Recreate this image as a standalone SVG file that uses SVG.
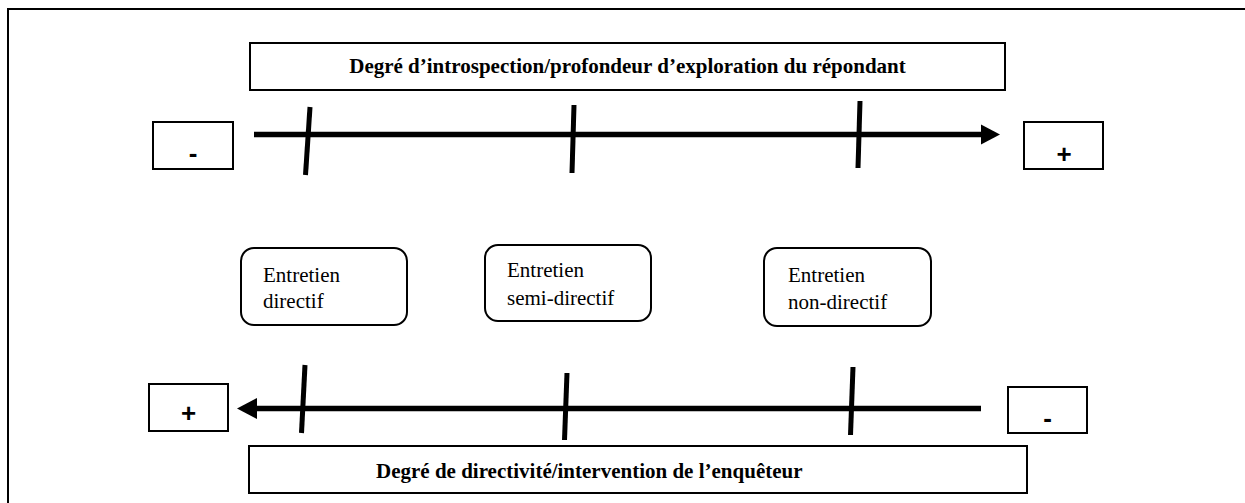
<svg xmlns="http://www.w3.org/2000/svg" width="1245" height="503" viewBox="0 0 1245 503">
  <defs>
    <style>
      .frame { fill: none; stroke: #000; stroke-width: 2; }
      .box { fill: #fff; stroke: #000; stroke-width: 2; }
      .serif { font-family: "Liberation Serif", "Times New Roman", Times, "DejaVu Serif", serif; fill: #000; }
      .title { font-weight: bold; font-size: 21px; }
      .label { font-size: 21px; }
      .sign { font-family: "Liberation Sans", Arial, sans-serif; font-weight: bold; font-size: 26px; fill: #000; text-anchor: middle; }
      .axis { stroke: #000; stroke-width: 5.5; fill: none; }
      .tick { stroke: #000; stroke-width: 5; fill: none; }
      .head { fill: #000; }
    </style>
  </defs>
  <rect width="1245" height="503" fill="#fff"/>

  <!-- outer frame (runs off the right and bottom edges) -->
  <path class="frame" d="M8 503 V9 H1245"/>

  <!-- top scale: introspection -->
  <g id="title-top">
    <rect class="box" x="250" y="43" width="755" height="47"/>
    <text class="serif title" x="627.5" y="73" text-anchor="middle" font-family="Liberation Serif, Times New Roman, serif">Degré d’introspection/profondeur d’exploration du répondant</text>
  </g>
  <g id="minus-top">
    <rect class="box" x="153" y="122" width="80" height="47"/>
    <text class="sign" x="193" y="162">-</text>
  </g>
  <g id="plus-top">
    <rect class="box" x="1024" y="122" width="79" height="47"/>
    <text class="sign" x="1064" y="163">+</text>
  </g>

  <!-- interview types -->
  <g id="directif">
    <rect class="box" x="241" y="248" width="166" height="77" rx="13"/>
    <text class="serif label" x="263" y="282">Entretien</text>
    <text class="serif label" x="263" y="308">directif</text>
  </g>
  <g id="semi-directif">
    <rect class="box" x="485" y="245" width="166" height="76" rx="13"/>
    <text class="serif label" x="507" y="277">Entretien</text>
    <text class="serif label" x="507" y="305">semi-directif</text>
  </g>
  <g id="non-directif">
    <rect class="box" x="764" y="248" width="167" height="78" rx="13"/>
    <text class="serif label" x="788" y="282">Entretien</text>
    <text class="serif label" x="788" y="309">non-directif</text>
  </g>

  <!-- bottom scale: directivity -->
  <g id="plus-bottom">
    <rect class="box" x="149" y="384" width="79" height="47"/>
    <text class="sign" x="188.5" y="422">+</text>
  </g>
  <g id="minus-bottom">
    <rect class="box" x="1008" y="387" width="79" height="46"/>
    <text class="sign" x="1047.5" y="427">-</text>
  </g>
  <g id="title-bottom">
    <rect class="box" x="249" y="446" width="778" height="47"/>
    <text class="serif title" x="376" y="478">Degré de directivité/intervention de l’enquêteur</text>
  </g>

  <!-- axes, ticks and arrowheads -->
  <g id="connectors">
    <line class="axis" x1="254" y1="134.5" x2="983" y2="134.5"/>
    <polygon class="head" points="981,124.5 1000,134.5 981,144.5"/>
    <line class="tick" x1="310" y1="107" x2="305.5" y2="175"/>
    <line class="tick" x1="574" y1="105" x2="572" y2="173"/>
    <line class="tick" x1="860" y1="101" x2="858" y2="168"/>

    <line class="axis" x1="981" y1="408.5" x2="255" y2="408.5"/>
    <polygon class="head" points="257,398 237,408.5 257,419"/>
    <line class="tick" x1="305" y1="365" x2="301.5" y2="433"/>
    <line class="tick" x1="567" y1="373" x2="564.5" y2="440"/>
    <line class="tick" x1="853" y1="367" x2="850.5" y2="435"/>
  </g>
</svg>
